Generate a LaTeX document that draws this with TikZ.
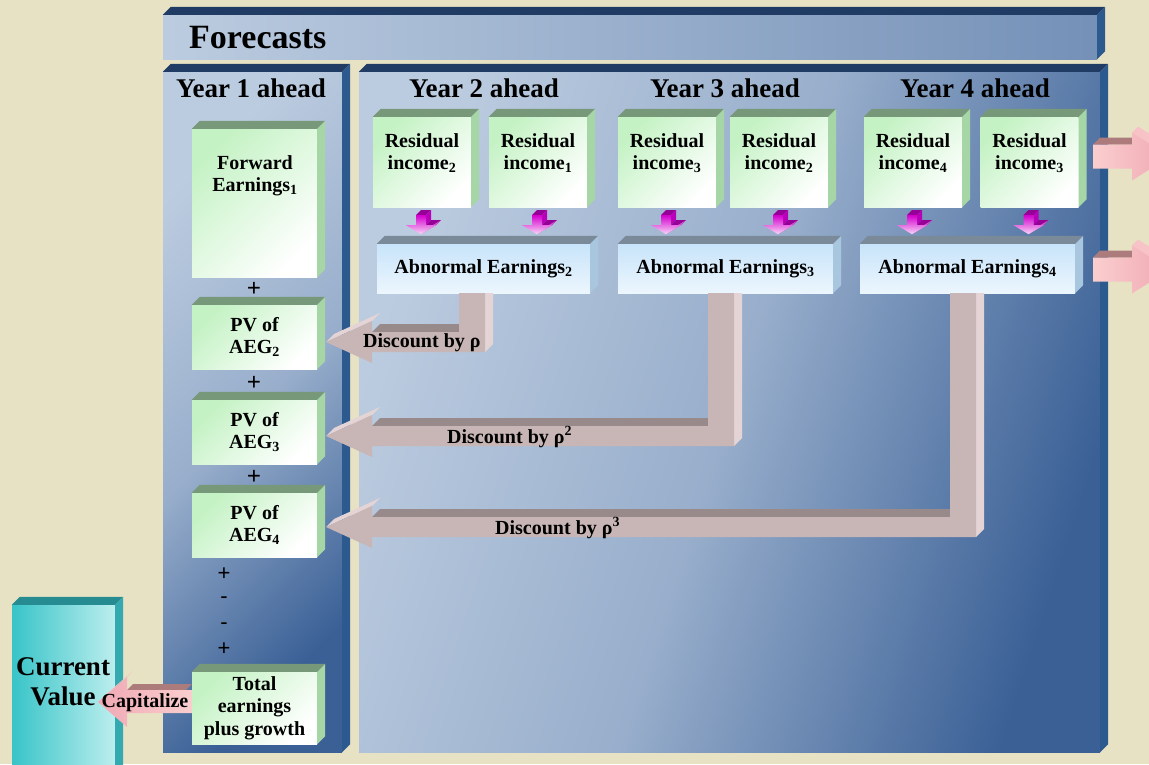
\documentclass[tikz,border=0pt]{standalone}
\usepackage{fontspec}
\setmainfont{Liberation Serif}
\setsansfont{Liberation Sans}
\usepackage{xcolor}

\definecolor{bgbeige}{RGB}{232,226,196}
\definecolor{navytop}{RGB}{32,60,100}
\definecolor{navyside}{RGB}{44,90,142}
\definecolor{panelL}{RGB}{188,204,224}
\definecolor{panelD}{RGB}{58,96,150}
\definecolor{gfront}{RGB}{196,242,196}
\definecolor{gtopc}{RGB}{120,152,122}
\definecolor{gsidec}{RGB}{166,214,166}
\definecolor{afront}{RGB}{200,228,250}
\definecolor{atopc}{RGB}{122,138,152}
\definecolor{asidec}{RGB}{168,198,222}
\definecolor{tealF}{RGB}{56,196,200}
\definecolor{tealL}{RGB}{188,238,238}
\definecolor{tealtop}{RGB}{38,140,146}
\definecolor{tealside}{RGB}{52,170,176}
\definecolor{pinkF}{RGB}{250,206,206}
\definecolor{pinkH}{RGB}{240,168,180}
\definecolor{pinktop}{RGB}{172,124,124}
\definecolor{discF}{RGB}{200,182,182}
\definecolor{disctop}{RGB}{152,138,138}
\definecolor{discside}{RGB}{228,212,214}
\definecolor{magF}{RGB}{212,0,206}
\definecolor{magL}{RGB}{248,214,248}
\definecolor{magtop}{RGB}{150,0,150}
\definecolor{magside}{RGB}{184,0,184}

\begin{document}
\begin{tikzpicture}[x=1pt,y=-1pt]
%style for panels
\tikzstyle{panel} = [rectangle, inner sep=0pt, left color=panelL, right color=panelD, middle color=panelL!72!panelD, shading angle=72]
\tikzstyle{ntop} = [fill=navytop]
\tikzstyle{nside} = [fill=navyside]

%style for green boxes
\tikzstyle{gbox} = [rectangle, inner sep=0pt, left color=gfront, right color=white, shading angle=45, align=center, font=\bfseries\fontsize{20}{22.5}\selectfont]
\tikzstyle{gtop} = [fill=gtopc]
\tikzstyle{gside} = [fill=gsidec]

%style for abnormal earnings boxes
\tikzstyle{abox} = [rectangle, inner sep=0pt, top color=afront, bottom color=afront!35!white, font=\bfseries\fontsize{20}{24}\selectfont]
\tikzstyle{atop} = [fill=atopc]
\tikzstyle{aside} = [fill=asidec]

%style for discount arrows
\tikzstyle{dfront} = [fill=discF]
\tikzstyle{dtop} = [fill=disctop]
\tikzstyle{dside} = [fill=discside]

%style for texts
\tikzstyle{btext} = [inner sep=0pt, align=center, font=\bfseries\fontsize{20}{22}\selectfont]
\tikzstyle{htext} = [inner sep=0pt, align=center, font=\bfseries\fontsize{27}{30}\selectfont]
\tikzstyle{plussign} = [inner sep=0pt, font=\bfseries\fontsize{25}{25}\selectfont]
\tikzstyle{smallsign} = [inner sep=0pt, font=\sffamily\fontsize{22}{22}\selectfont]

%background
\useasboundingbox (0,0) rectangle (1149,764);
\clip (0,0) rectangle (1149,764);
\fill[bgbeige] (0,0) rectangle (1149,764);

%place panels
\node[panel, left color=panelL, right color=panelD!55!panelL, shading angle=90, minimum width=934, minimum height=44] (fc) at (630,37) {};
\node[panel, shading angle=45, minimum width=179, minimum height=680] (y1) at (252.5,412) {};
\node[panel, minimum width=741, minimum height=680] (y24) at (729.5,412) {};

%3d faces of the panels
\foreach \pn in {fc,y1,y24}{
  \fill[ntop] (\pn.north west) -- ++(8,-8) -- ([shift={(8,-8)}]\pn.north east) -- (\pn.north east) -- cycle;
  \fill[nside] (\pn.north east) -- ++(8,-8) -- ([shift={(8,-8)}]\pn.south east) -- (\pn.south east) -- cycle;
}

%headers
\node[htext, anchor=west, font=\bfseries\fontsize{34}{36}\selectfont] (fctext) at (189,38) {Forecasts};
\node[htext] (h1) at (251,88) {Year 1 ahead};
\node[htext] (h2) at (484,88) {Year 2 ahead};
\node[htext] (h3) at (725,88) {Year 3 ahead};
\node[htext] (h4) at (975,88) {Year 4 ahead};

%residual income boxes
\node[gbox, minimum width=98, minimum height=90] (r2a) at (422,162) {};
\node[gbox, minimum width=98, minimum height=90] (r2b) at (538,162) {};
\node[gbox, minimum width=98, minimum height=90] (r3a) at (667,162) {};
\node[gbox, minimum width=98, minimum height=90] (r3b) at (779,162) {};
\node[gbox, minimum width=98, minimum height=90] (r4a) at (913,162) {};
\node[gbox, minimum width=98, minimum height=90] (r4b) at (1029.5,162) {};
\node[btext] (t2a) at (422,153) {Residual\\income\textsubscript{2}};
\node[btext] (t2b) at (538,153) {Residual\\income\textsubscript{1}};
\node[btext] (t3a) at (667,153) {Residual\\income\textsubscript{3}};
\node[btext] (t3b) at (779,153) {Residual\\income\textsubscript{2}};
\node[btext] (t4a) at (913,153) {Residual\\income\textsubscript{4}};
\node[btext] (t4b) at (1029.5,153) {Residual\\income\textsubscript{3}};

%abnormal earnings boxes
\node[abox, minimum width=213, minimum height=49] (a2) at (483.5,268.5) {Abnormal Earnings\textsubscript{2}};
\node[abox, minimum width=215, minimum height=49] (a3) at (725.5,268.5) {Abnormal Earnings\textsubscript{3}};
\node[abox, minimum width=215, minimum height=49] (a4) at (967.5,268.5) {Abnormal Earnings\textsubscript{4}};

%year 1 boxes
\node[gbox, minimum width=125, minimum height=148] (fwd) at (254.5,203) {};
\node[btext] (fwdtext) at (255,176) {Forward\\Earnings\textsubscript{1}};
\node[gbox, minimum width=125, minimum height=64] (pv2) at (254.5,337) {PV of\\AEG\textsubscript{2}};
\node[gbox, minimum width=125, minimum height=64] (pv3) at (254.5,432) {PV of\\AEG\textsubscript{3}};
\node[gbox, minimum width=125, minimum height=64] (pv4) at (254.5,525) {PV of\\AEG\textsubscript{4}};
\node[gbox, minimum width=125, minimum height=72] (tot) at (254.5,708) {Total\\earnings\\plus growth};

%3d faces of the boxes
\foreach \bx in {fwd,pv2,pv3,pv4,tot,r2a,r2b,r3a,r3b,r4a,r4b}{
  \fill[gtop] (\bx.north west) -- ++(8,-8) -- ([shift={(8,-8)}]\bx.north east) -- (\bx.north east) -- cycle;
  \fill[gside] (\bx.north east) -- ++(8,-8) -- ([shift={(8,-8)}]\bx.south east) -- (\bx.south east) -- cycle;
}
\foreach \bx in {a2,a3,a4}{
  \fill[atop] (\bx.north west) -- ++(8,-8) -- ([shift={(8,-8)}]\bx.north east) -- (\bx.north east) -- cycle;
  \fill[aside] (\bx.north east) -- ++(8,-8) -- ([shift={(8,-8)}]\bx.south east) -- (\bx.south east) -- cycle;
}

%plus and minus signs
\node[plussign] (p1) at (254,289) {+};
\node[plussign] (p2) at (254,383) {+};
\node[plussign] (p3) at (254,477) {+};
\node[smallsign] (s1) at (224,574) {+};
\node[smallsign] (s2) at (224,600) {-};
\node[smallsign] (s3) at (224,626) {-};
\node[smallsign] (s4) at (224,649) {+};

%arrows from residual income to abnormal earnings
\foreach \rb in {r2a,r2b,r3a,r3b,r4a,r4b}{
  \begin{scope}[shift={(\rb.south)}]
    \fill[magtop] (-6,8) -- (-1,3) -- (9,3) -- (4,8) -- cycle;
    \fill[magside] (4,8) -- (9,3) -- (9,13) -- (4,18) -- cycle;
    \fill[magtop] (4,18) -- (9,13) -- (19,13) -- (14,18) -- cycle;
    \fill[magside!60!magL] (14,18) -- (19,13) -- (4,22) -- (-1,27) -- cycle;
    \shade[top color=magF, bottom color=magL] (-6,8) -- (4,8) -- (4,18) -- (14,18) -- (-1,27) -- (-16,18) -- (-6,18) -- cycle;
  \end{scope}
}

%discount arrows from abnormal earnings to pv boxes
\foreach \src/\vx/\ty in {a2/459/342, a3/708/436, a4/950/527}{
  \fill[dtop] (372,\ty-10) -- (380,\ty-18) -- (\vx+34,\ty-18) -- (\vx+26,\ty-10) -- cycle;
  \fill[dside] (\vx+26,0 |- \src.south) -- (\vx+34,0 |- \src.south) -- (\vx+34,\ty+2) -- (\vx+26,\ty+10) -- cycle;
  \fill[dside] (326,\ty) -- (372,\ty-21) -- (380,\ty-29) -- (334,\ty-8) -- cycle;
  \fill[dfront] (326,\ty) -- (372,\ty-21) -- (372,\ty-10) -- (\vx,\ty-10) -- (\vx,0 |- \src.south) -- (\vx+26,0 |- \src.south) -- (\vx+26,\ty+10) -- (372,\ty+10) -- (372,\ty+21) -- cycle;
}
\node[btext, anchor=west] (d1) at (363,343) {Discount by ρ};
\node[btext, anchor=west] (d2) at (447,437) {Discount by ρ\textsuperscript{2}};
\node[btext, anchor=west] (d3) at (495,528) {Discount by ρ\textsuperscript{3}};

%current value box
\node[rectangle, inner sep=0pt, left color=tealF, right color=tealL, minimum width=103, minimum height=175] (cv) at (63.5,692.5) {};
\fill[fill=tealtop] (cv.north west) -- ++(8,-8) -- ([shift={(8,-8)}]cv.north east) -- (cv.north east) -- cycle;
\fill[fill=tealside] (cv.north east) -- ++(8,-8) -- ([shift={(8,-8)}]cv.south east) -- (cv.south east) -- cycle;
\node[htext] (cvtext) at (63,682) {Current\\Value};

%capitalize arrow from total to current value
\coordinate (captip) at (98,702);
\fill[fill=pinktop] (127,690) -- (133,684) -- (tot.west |- 0,684) -- ([shift={(-6,0)}]tot.west |- 0,690) -- cycle;
\fill[fill=pinkF!70!pinkH] (captip) -- (127,677) -- (133,671) -- (104,696) -- cycle;
\shade[left color=pinkH, right color=pinkF] (captip) -- (127,677) -- (127,690) -- (tot.west |- 0,690) -- (tot.west |- 0,713) -- (127,713) -- (127,727) -- cycle;
\node[btext] (capt) at (145,703) {Capitalize};

%arrows leaving the panel
\foreach \ty in {156.5,269.5}{
  \fill[fill=pinktop] (1093,\ty-12) -- (1100,\ty-19) -- (1139,\ty-19) -- (1132,\ty-12) -- cycle;
  \fill[fill=pinkF!70!pinkH] (1132,\ty-24) -- (1138,\ty-30) -- (1176,\ty-6) -- (1170,\ty) -- cycle;
  \shade[left color=pinkF, right color=pinkH] (1093,\ty-12) -- (1132,\ty-12) -- (1132,\ty-24) -- (1170,\ty) -- (1132,\ty+24) -- (1132,\ty+12) -- (1093,\ty+12) -- cycle;
}
\end{tikzpicture}
\end{document}
